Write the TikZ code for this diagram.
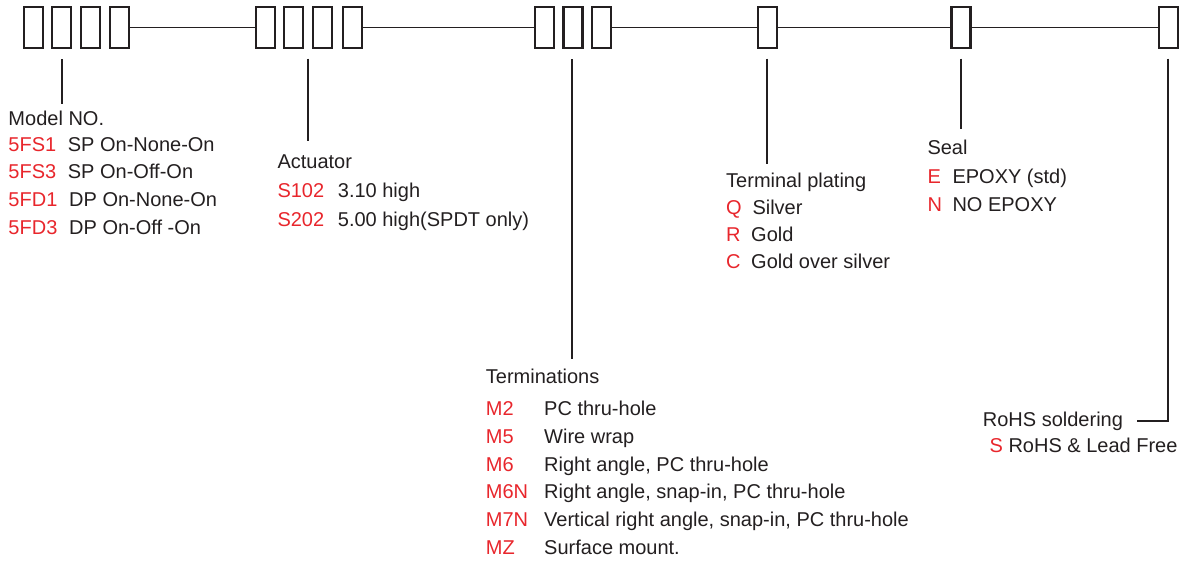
\documentclass[tikz,border=0pt]{standalone}
\usepackage{fontspec}
\setmainfont{Liberation Sans}
\definecolor{codered}{HTML}{E8262C}
\definecolor{ink}{HTML}{231F20}
\begin{document}
\begin{tikzpicture}[x=1pt,y=-1pt,
  slot/.style={draw=ink, line width=2.4pt, minimum width=19pt, minimum height=40.5pt, inner sep=0pt},
  link/.style={draw=ink, line width=1.8pt},
  head/.style={anchor=base west, inner sep=0pt, text=ink, font=\fontsize{20}{24}\selectfont},
  code/.style={head, text=codered}]
\useasboundingbox (0,0) rectangle (1182,560);
% boxes
\node[slot] (a1) at (33.7,27.5) {};
\node[slot] (a2) at (61.7,27.5) {};
\node[slot] (a3) at (90.5,27.5) {};
\node[slot] (a4) at (119.2,27.5) {};
\node[slot] (b1) at (265.5,27.5) {};
\node[slot] (b2) at (293.3,27.5) {};
\node[slot] (b3) at (322.5,27.5) {};
\node[slot] (b4) at (352.2,27.5) {};
\node[slot] (c1) at (544.2,27.5) {};
\node[slot] (c2) at (572.8,27.5) {};
\node[slot] (c3) at (601.7,27.5) {};
\node[slot] (d1) at (767.5,27.5) {};
\node[slot] (e1) at (960.8,27.5) {};
\node[slot] (f1) at (1168.2,27.5) {};
% horizontal links
\draw[link] (a4.east) -- (b1.west);
\draw[link] (b4.east) -- (c1.west);
\draw[link] (c3.east) -- (d1.west);
\draw[link] (d1.east) -- (e1.west);
\draw[link] (e1.east) -- (f1.west);
% leader lines
\coordinate (ma) at (61.7,59);   \coordinate (mb) at (61.7,104);
\coordinate (aa) at (308,58.5);  \coordinate (ab) at (308,141);
\coordinate (ta) at (571.7,59);  \coordinate (tb) at (571.7,358.5);
\coordinate (pa) at (767.3,58.5);\coordinate (pb) at (767.3,163.5);
\coordinate (sa) at (960.7,58.5);\coordinate (sb) at (960.7,129);
\coordinate (ra) at (1167.7,58.5);\coordinate (rb) at (1136.7,420.7);
\draw[link] (ma) -- (mb);
\draw[link] (aa) -- (ab);
\draw[link] (ta) -- (tb);
\draw[link] (pa) -- (pb);
\draw[link] (sa) -- (sb);
\draw[link] (ra) |- (rb);
% Model NO.
\node[head] (mh) at (8.3,125.5) {Model NO.};
\node[code] (m1c) at (8.3,151) {5FS1};   \node[head] (m1t) at (67.7,151) {SP On-None-On};
\node[code] (m2c) at (8.3,178.5) {5FS3}; \node[head] (m2t) at (67.7,178.5) {SP On-Off-On};
\node[code] (m3c) at (8.3,206) {5FD1};   \node[head] (m3t) at (69,206) {DP On-None-On};
\node[code] (m4c) at (8.3,234) {5FD3};   \node[head] (m4t) at (69,234) {DP On-Off -On};
% Actuator
\node[head] (ah) at (277.3,168.3) {Actuator};
\node[code] (a1c) at (277.3,197.7) {S102}; \node[head] (a1t) at (337.7,197.7) {3.10 high};
\node[code] (a2c) at (277.3,226.7) {S202}; \node[head] (a2t) at (337.7,226.7) {5.00 high(SPDT only)};
% Terminations
\node[head] (th) at (485.7,383.3) {Terminations};
\node[code] (t1c) at (485.7,415.7) {M2};  \node[head] (t1t) at (544,415.7) {PC thru-hole};
\node[code] (t2c) at (485.7,443.3) {M5};  \node[head] (t2t) at (544,443.3) {Wire wrap};
\node[code] (t3c) at (485.7,471) {M6};    \node[head] (t3t) at (544,471) {Right angle, PC thru-hole};
\node[code] (t4c) at (485.7,498.5) {M6N}; \node[head] (t4t) at (544,498.5) {Right angle, snap-in, PC thru-hole};
\node[code] (t5c) at (485.7,526) {M7N};   \node[head] (t5t) at (544,526) {Vertical right angle, snap-in, PC thru-hole};
\node[code] (t6c) at (485.7,554) {MZ};    \node[head] (t6t) at (544,554) {Surface mount.};
% Terminal plating
\node[head] (ph) at (726,187.7) {Terminal plating};
\node[code] (p1c) at (726,214.3) {Q}; \node[head] (p1t) at (752.3,214.3) {Silver};
\node[code] (p2c) at (726,241) {R};   \node[head] (p2t) at (751,241) {Gold};
\node[code] (p3c) at (726,268) {C};   \node[head] (p3t) at (751,268) {Gold over silver};
% Seal
\node[head] (sh) at (927.3,154.3) {Seal};
\node[code] (s1c) at (927.3,183.3) {E}; \node[head] (s1t) at (952.3,183.3) {EPOXY (std)};
\node[code] (s2c) at (927.3,211) {N};   \node[head] (s2t) at (952.3,211) {NO EPOXY};
% RoHS
\node[head] (rh) at (982.7,426.7) {RoHS soldering};
\node[code] (r1c) at (989.3,452.7) {S}; \node[head] (r1t) at (1008.3,452.7) {RoHS \& Lead Free};
\end{tikzpicture}
\end{document}
